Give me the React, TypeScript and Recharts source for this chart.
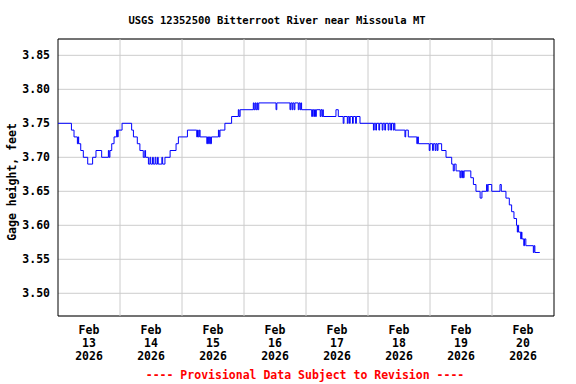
import { LineChart, Line, XAxis, YAxis, CartesianGrid, ReferenceLine, ReferenceArea } from "recharts";

/* hours since Feb 13 00:00 where the stage changes */
const readingHour = [
  0, 5.2, 6.2, 7.5, 7.8, 8.0, 8.8, 9.8, 11.5, 13.4, 14.7, 16.9, 19.5, 19.8, 20.1, 20.8, 21.7, 22.7, 23.0, 23.3,
  24.8, 28.5, 29.2, 30.7, 31.7, 33.0, 33.6, 33.9, 35.0, 35.6, 35.9, 36.6, 36.9, 37.6, 37.9, 38.5, 38.8, 40.2, 40.5, 41.4,
  43.4, 45.7, 46.6, 50.1, 53.7, 54.0, 54.3, 54.7, 55.0, 57.6, 57.9, 58.3, 58.6, 59.0, 59.4, 62.1, 62.4, 62.7, 64.6, 67.2,
  69.8, 70.1, 70.5, 75.6, 75.9, 76.3, 76.6, 77.0, 77.3, 77.7, 84.4, 84.7, 89.8, 90.1, 90.6, 90.9, 91.4, 91.7, 93.0, 93.3,
  93.7, 94.0, 94.3, 98.2, 98.5, 99.0, 99.3, 99.7, 100.0, 101.5, 101.8, 102.2, 102.5, 102.7, 107.6, 108.5, 110.4, 110.7, 112.0, 112.3,
  112.8, 113.1, 114.0, 114.3, 115.2, 115.5, 116.9, 122.1, 122.4, 123.0, 123.3, 124.2, 124.5, 125.5, 125.8, 126.5, 126.8, 127.8, 128.1, 128.8,
  129.1, 129.8, 130.1, 130.4, 134.3, 134.6, 135.6, 138.9, 139.2, 139.5, 143.7, 144.0, 145.0, 145.3, 146.0, 146.3, 146.8, 147.1, 148.5, 150.2,
  152.4, 153.0, 153.4, 154.1, 155.6, 155.9, 156.3, 156.6, 156.9, 157.2, 159.8, 160.8, 161.8, 163.4, 164.1, 165.9, 166.2, 166.5, 167.9, 171.1,
  171.6, 173.4, 174.7, 175.6, 176.5, 177.5, 177.8, 178.0, 178.3, 179.1, 179.4, 179.6, 180.3, 180.6, 181.1, 184.0, 184.3, 184.6, 186.5,
];

/* gage height, feet */
const gageHeight = [
  3.75, 3.74, 3.73, 3.72, 3.73, 3.72, 3.71, 3.70, 3.69, 3.70, 3.71, 3.70, 3.71, 3.70, 3.71, 3.72, 3.73, 3.74, 3.73, 3.74,
  3.75, 3.74, 3.73, 3.72, 3.71, 3.70, 3.71, 3.70, 3.69, 3.70, 3.69, 3.70, 3.69, 3.70, 3.69, 3.70, 3.69, 3.70, 3.69, 3.70,
  3.71, 3.72, 3.73, 3.74, 3.73, 3.74, 3.73, 3.74, 3.73, 3.72, 3.73, 3.72, 3.73, 3.72, 3.73, 3.74, 3.73, 3.74, 3.75, 3.76,
  3.77, 3.76, 3.77, 3.78, 3.77, 3.78, 3.77, 3.78, 3.77, 3.78, 3.77, 3.78, 3.77, 3.78, 3.77, 3.78, 3.77, 3.78, 3.77, 3.78,
  3.77, 3.78, 3.77, 3.76, 3.77, 3.76, 3.77, 3.76, 3.77, 3.76, 3.77, 3.76, 3.77, 3.76, 3.77, 3.76, 3.75, 3.76, 3.75, 3.76,
  3.75, 3.76, 3.75, 3.76, 3.75, 3.76, 3.75, 3.74, 3.75, 3.74, 3.75, 3.74, 3.75, 3.74, 3.75, 3.74, 3.75, 3.74, 3.75, 3.74,
  3.75, 3.74, 3.75, 3.74, 3.73, 3.74, 3.73, 3.72, 3.73, 3.72, 3.71, 3.72, 3.71, 3.72, 3.71, 3.72, 3.71, 3.72, 3.71, 3.70,
  3.69, 3.68, 3.69, 3.68, 3.67, 3.68, 3.67, 3.68, 3.67, 3.68, 3.67, 3.66, 3.65, 3.64, 3.65, 3.66, 3.65, 3.66, 3.65, 3.66,
  3.65, 3.64, 3.63, 3.62, 3.61, 3.60, 3.59, 3.60, 3.59, 3.58, 3.59, 3.58, 3.57, 3.58, 3.57, 3.56, 3.57, 3.56, 3.56,
];

const dayLabels = ["13", "14", "15", "16", "17", "18", "19", "20"];
const labelHours = [12, 36, 60, 84, 108, 132, 156, 180];
const midnightHours = [24, 48, 72, 96, 120, 144, 168];
const heightTicks = [3.5, 3.55, 3.6, 3.65, 3.7, 3.75, 3.8, 3.85];

const data = readingHour.map((h, i) => ({ hour: h, height: gageHeight[i] }));

const FONT = "'DejaVu Sans Mono', monospace";

const DateTick = (props: any) => {
  const { x, y, index } = props;
  return (
    <text x={x} y={y} textAnchor="middle" fontFamily={FONT} fontWeight="bold" fontSize={11.5} fill="#000">
      <tspan x={x} dy={10}>Feb</tspan>
      <tspan x={x} dy={13}>{dayLabels[index]}</tspan>
      <tspan x={x} dy={13}>2026</tspan>
    </text>
  );
};

export default function App() {
  return (
    <div style={{ position: "absolute", left: 0, top: 0, width: 576, height: 384, background: "#fff" }}>
      <LineChart width={576} height={384} data={data} margin={{ top: 39, right: 22, bottom: 38, left: 0 }}>
        <CartesianGrid vertical={false} stroke="#cccccc" />
        {midnightHours.map((h) => (
          <ReferenceLine key={h} x={h} stroke="#cccccc" />
        ))}
        <XAxis
          dataKey="hour"
          type="number"
          domain={[0, 192]}
          ticks={labelHours}
          interval={0}
          height={30}
          tickLine={false}
          axisLine={false}
          tickSize={0}
          tickMargin={8}
          tick={<DateTick />}
        />
        <YAxis
          type="number"
          domain={[3.4666, 3.874]}
          allowDataOverflow
          ticks={heightTicks}
          interval={0}
          width={58}
          tickLine={false}
          axisLine={false}
          tickSize={0}
          tickMargin={8}
          tickFormatter={(v: number) => v.toFixed(2)}
          tick={{ fontFamily: FONT, fontWeight: "bold", fontSize: 11.5, fill: "#000" }}
        />
        <ReferenceArea x1={0} x2={192} y1={3.4666} y2={3.874} fill="none" stroke="#000" strokeWidth={1} ifOverflow="visible" />
        <Line
          type="stepAfter"
          dataKey="height"
          stroke="#0000ff"
          strokeWidth={1}
          dot={false}
          isAnimationActive={false}
        />
      </LineChart>
      <svg width={576} height={384} style={{ position: "absolute", left: 0, top: 0, pointerEvents: "none" }}>
        <text x={277} y={24} textAnchor="middle" fontFamily={FONT} fontWeight="bold" fontSize={10.5} fill="#000">
          USGS 12352500 Bitterroot River near Missoula MT
        </text>
        <text
          x={0}
          y={0}
          transform="translate(16 182) rotate(-90)"
          textAnchor="middle"
          fontFamily={FONT}
          fontWeight="bold"
          fontSize={11.5}
          fill="#000"
        >
          Gage height, feet
        </text>
        <text x={305} y={379} textAnchor="middle" fontFamily={FONT} fontWeight="bold" fontSize={11.5} fill="#ff0000">
          ---- Provisional Data Subject to Revision ----
        </text>
      </svg>
    </div>
  );
}
